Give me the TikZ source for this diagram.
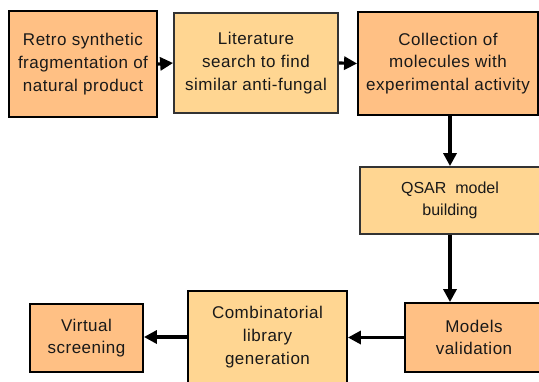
\documentclass[tikz,border=0pt]{standalone}
\usepackage{fontspec}
\setmainfont{Liberation Sans}[LetterSpace=3]
\usetikzlibrary{arrows.meta}
\definecolor{boxOrange}{RGB}{255,192,132}
\definecolor{boxLight}{RGB}{255,214,146}
\begin{document}
\begin{tikzpicture}[x=1pt, y=-1pt, orangeStyle/.style={rectangle, draw=black, fill=boxOrange, line width=1.8pt, align=center, inner sep=0pt, text=black!90, font=\fontsize{17}{22.7}\selectfont}, lightStyle/.style={orangeStyle, fill=boxLight, draw=black!80}, >={Triangle[length=13pt, width=13pt]}, arrowStyle/.style={line width=3.2pt, ->}]
                    \useasboundingbox (0, 0) rectangle (539, 381);
                    \clip (0, 0) rectangle (539, 381);

                    \node[orangeStyle, minimum width=148pt, minimum height=106pt] (retro) at (83, 64) {Retro synthetic\\fragmentation of\\natural product};
                    \node[lightStyle, minimum width=164pt, minimum height=100pt] (search) at (256, 63) {Literature\\search to find\\similar anti-fungal};
                    \node[orangeStyle, minimum width=180pt, minimum height=103pt] (collect) at (448, 63.5) {Collection of\\molecules with\\experimental activity};

                    \node[lightStyle, minimum width=180pt, minimum height=67pt, font=\fontsize{16}{22.7}\selectfont\addfontfeatures{LetterSpace=0}] (qsar) at (450, 200.5) {QSAR\ \ model\\building};
                    \node[orangeStyle, minimum width=138pt, minimum height=69pt] (valid) at (474, 337.5) {Models\\validation};

                    \node[lightStyle, minimum width=159pt, minimum height=92pt, draw=black] (combi) at (267.5, 337) {Combinatorial\\library\\generation};
                    \node[orangeStyle, minimum width=113pt, minimum height=68pt] (virtual) at (86.5, 338) {Virtual\\screening};

                    \draw[arrowStyle] (retro.east) -- (search.west);
                    \draw[arrowStyle] (search.east) -- (collect.west);
                    \draw[arrowStyle] (collect.south -| qsar.north) -- (qsar.north);
                    \draw[arrowStyle] (qsar.south) -- (qsar.south |- valid.north);
                    \draw[arrowStyle] (valid.west) -- (valid.west -| combi.east);
                    \draw[arrowStyle] (combi.west) -- (combi.west -| virtual.east);
                \end{tikzpicture}
\end{document}
